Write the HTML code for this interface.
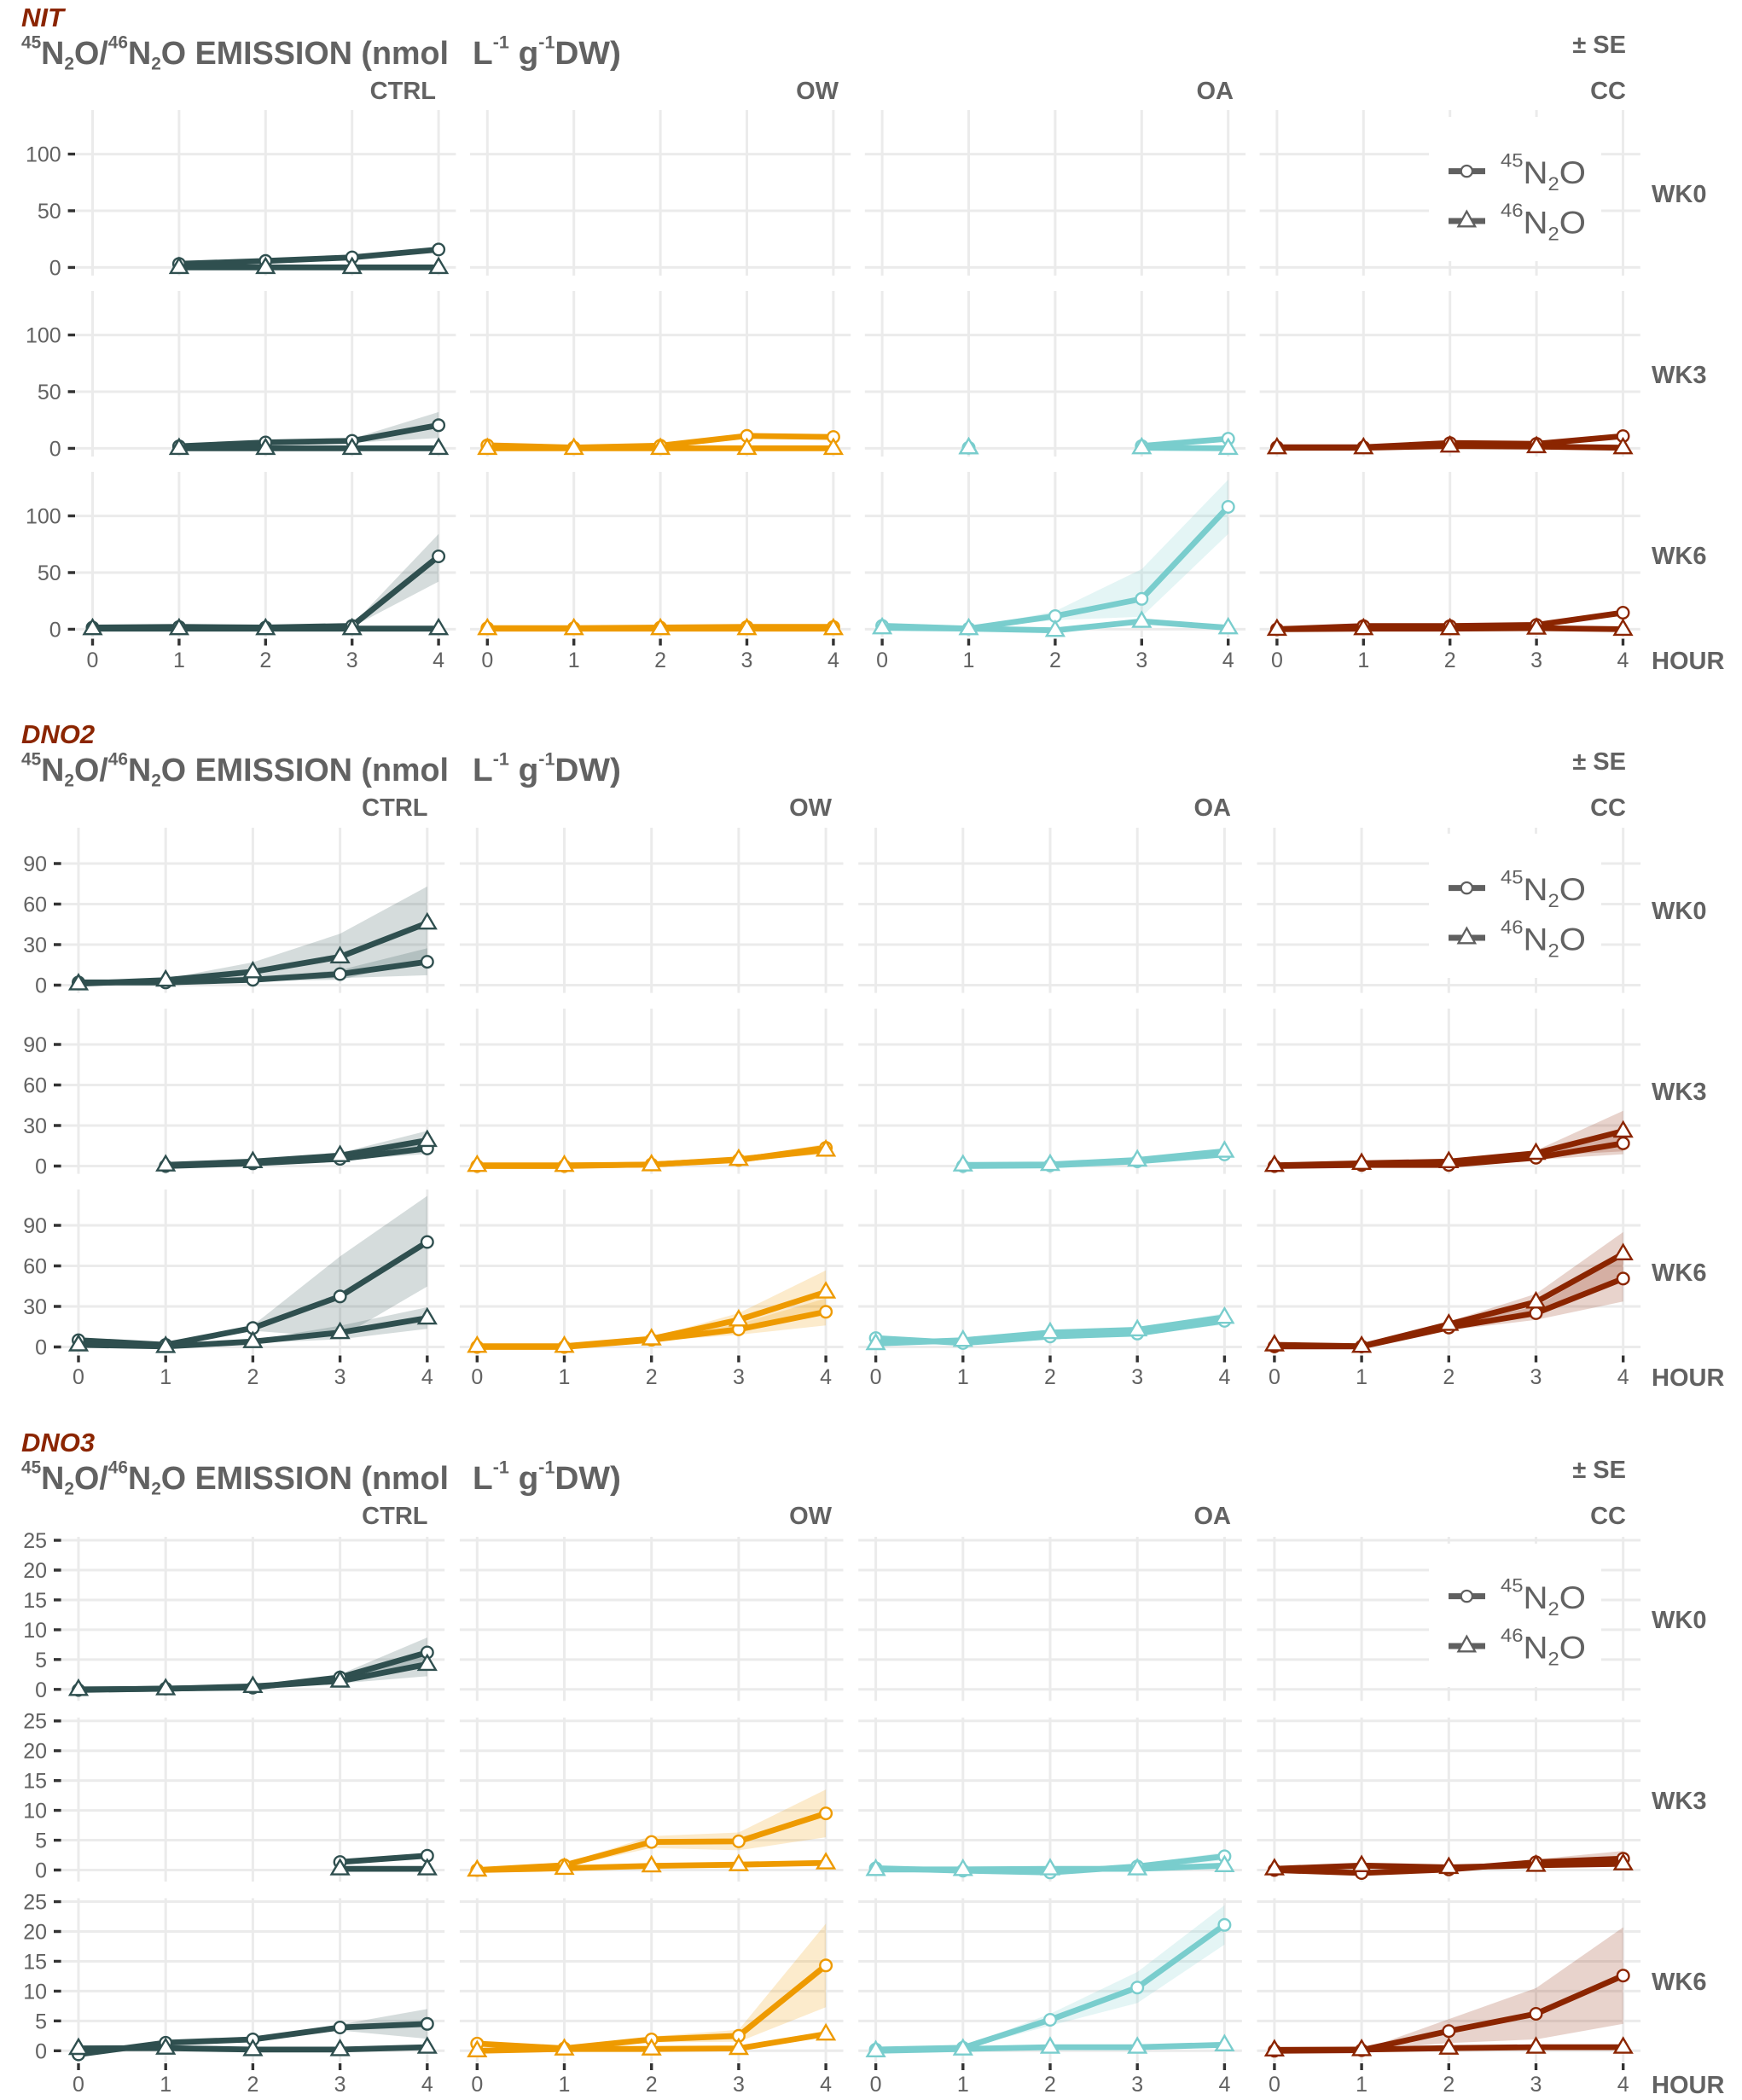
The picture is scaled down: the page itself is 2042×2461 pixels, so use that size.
<!DOCTYPE html>
<html><head><meta charset="utf-8">
<style>
html,body{margin:0;padding:0;background:#fff;}
svg{display:block;}
text{font-family:"Liberation Sans",Arial,sans-serif;fill:#626262;}
.tk{font-size:25px;}
.tr{text-anchor:end;}
.tm{text-anchor:middle;}
.st{font-size:29px;font-weight:bold;}
.bl{font-size:31px;font-weight:bold;font-style:italic;fill:#8B2500;}
.ti{font-size:38px;font-weight:bold;}
.sm{font-size:21px;}
.lg{font-size:37px;}
.ls{font-size:22px;}
.l{fill:none;stroke-width:6.8;stroke-linejoin:round;}
.rb{stroke:none;fill-opacity:.2;}
.m{fill:none;stroke:none;}
.k0{stroke:#2F4F4F;fill:#2F4F4F;}
.k1{stroke:#EE9A00;fill:#EE9A00;}
.k2{stroke:#79CDCD;fill:#79CDCD;}
.k3{stroke:#8B2500;fill:#8B2500;}
.c0{marker:url(#mc0);} .t0{marker:url(#mt0);}
.c1{marker:url(#mc1);} .t1{marker:url(#mt1);}
.c2{marker:url(#mc2);} .t2{marker:url(#mt2);}
.c3{marker:url(#mc3);} .t3{marker:url(#mt3);}
.grid{fill:none;stroke:#EBEBEB;stroke-width:3;}
.tick{fill:none;stroke:#333;stroke-width:3.4;}
</style></head>
<body>
<svg xmlns="http://www.w3.org/2000/svg" width="2042" height="2461" viewBox="0 0 2042 2461">
<defs>
<marker id="mc0" markerUnits="userSpaceOnUse" markerWidth="1" markerHeight="1" refX="0" refY="0" overflow="visible"><circle r="6.8" fill="#fff" stroke="#2F4F4F" stroke-width="2.4"/></marker>
<marker id="mt0" markerUnits="userSpaceOnUse" markerWidth="1" markerHeight="1" refX="0" refY="0" overflow="visible"><path d="M0,-10.5L10,6.5L-10,6.5Z" fill="#fff" stroke="#2F4F4F" stroke-width="2.4"/></marker>
<marker id="mc1" markerUnits="userSpaceOnUse" markerWidth="1" markerHeight="1" refX="0" refY="0" overflow="visible"><circle r="6.8" fill="#fff" stroke="#EE9A00" stroke-width="2.4"/></marker>
<marker id="mt1" markerUnits="userSpaceOnUse" markerWidth="1" markerHeight="1" refX="0" refY="0" overflow="visible"><path d="M0,-10.5L10,6.5L-10,6.5Z" fill="#fff" stroke="#EE9A00" stroke-width="2.4"/></marker>
<marker id="mc2" markerUnits="userSpaceOnUse" markerWidth="1" markerHeight="1" refX="0" refY="0" overflow="visible"><circle r="6.8" fill="#fff" stroke="#79CDCD" stroke-width="2.4"/></marker>
<marker id="mt2" markerUnits="userSpaceOnUse" markerWidth="1" markerHeight="1" refX="0" refY="0" overflow="visible"><path d="M0,-10.5L10,6.5L-10,6.5Z" fill="#fff" stroke="#79CDCD" stroke-width="2.4"/></marker>
<marker id="mc3" markerUnits="userSpaceOnUse" markerWidth="1" markerHeight="1" refX="0" refY="0" overflow="visible"><circle r="6.8" fill="#fff" stroke="#8B2500" stroke-width="2.4"/></marker>
<marker id="mt3" markerUnits="userSpaceOnUse" markerWidth="1" markerHeight="1" refX="0" refY="0" overflow="visible"><path d="M0,-10.5L10,6.5L-10,6.5Z" fill="#fff" stroke="#8B2500" stroke-width="2.4"/></marker>
<path id="g1" class="grid" d="M0,-184.4V9.6M101.4,-184.4V9.6M202.8,-184.4V9.6M304.2,-184.4V9.6M405.6,-184.4V9.6M-20.3,0H425.9M-20.3,-66.4H425.9M-20.3,-132.8H425.9"/>
<path id="g2" class="grid" d="M0,-184.5V9.1M102.2,-184.5V9.1M204.4,-184.5V9.1M306.6,-184.5V9.1M408.8,-184.5V9.1M-20.4,0H429.2M-20.4,-47.5H429.2M-20.4,-95H429.2M-20.4,-142.5H429.2"/>
<path id="g3" class="grid" d="M0,-178.8V13.5M102.2,-178.8V13.5M204.4,-178.8V13.5M306.6,-178.8V13.5M408.8,-178.8V13.5M-20.4,0H429.2M-20.4,-34.95H429.2M-20.4,-69.9H429.2M-20.4,-104.85H429.2M-20.4,-139.8H429.2M-20.4,-174.75H429.2"/>
</defs>

<!-- ================= GRIDS ================= -->
<use href="#g1" x="108.5" y="313.4"/><use href="#g1" x="571.3" y="313.4"/><use href="#g1" x="1034.1" y="313.4"/><use href="#g1" x="1496.9" y="313.4"/>
<use href="#g1" x="108.5" y="525.4"/><use href="#g1" x="571.3" y="525.4"/><use href="#g1" x="1034.1" y="525.4"/><use href="#g1" x="1496.9" y="525.4"/>
<use href="#g1" x="108.5" y="737.4"/><use href="#g1" x="571.3" y="737.4"/><use href="#g1" x="1034.1" y="737.4"/><use href="#g1" x="1496.9" y="737.4"/>

<use href="#g2" x="92" y="1154.5"/><use href="#g2" x="559.3" y="1154.5"/><use href="#g2" x="1026.6" y="1154.5"/><use href="#g2" x="1493.9" y="1154.5"/>
<use href="#g2" x="92" y="1366.5"/><use href="#g2" x="559.3" y="1366.5"/><use href="#g2" x="1026.6" y="1366.5"/><use href="#g2" x="1493.9" y="1366.5"/>
<use href="#g2" x="92" y="1578.5"/><use href="#g2" x="559.3" y="1578.5"/><use href="#g2" x="1026.6" y="1578.5"/><use href="#g2" x="1493.9" y="1578.5"/>

<use href="#g3" x="92" y="1979.8"/><use href="#g3" x="559.3" y="1979.8"/><use href="#g3" x="1026.6" y="1979.8"/><use href="#g3" x="1493.9" y="1979.8"/>
<use href="#g3" x="92" y="2191.5"/><use href="#g3" x="559.3" y="2191.5"/><use href="#g3" x="1026.6" y="2191.5"/><use href="#g3" x="1493.9" y="2191.5"/>
<use href="#g3" x="92" y="2403.3"/><use href="#g3" x="559.3" y="2403.3"/><use href="#g3" x="1026.6" y="2403.3"/><use href="#g3" x="1493.9" y="2403.3"/>

<!-- ================= TICKS ================= -->
<path class="tick" d="M79.6,180.6H88M79.6,247H88M79.6,313.4H88M79.6,392.6H88M79.6,459H88M79.6,525.4H88M79.6,604.6H88M79.6,671H88M79.6,737.4H88
M108.5,748.5V756.5M209.9,748.5V756.5M311.3,748.5V756.5M412.7,748.5V756.5M514.1,748.5V756.5
M571.3,748.5V756.5M672.7,748.5V756.5M774.1,748.5V756.5M875.5,748.5V756.5M976.9,748.5V756.5
M1034.1,748.5V756.5M1135.5,748.5V756.5M1236.9,748.5V756.5M1338.3,748.5V756.5M1439.7,748.5V756.5
M1496.9,748.5V756.5M1598.3,748.5V756.5M1699.7,748.5V756.5M1801.1,748.5V756.5M1902.5,748.5V756.5"/>
<path class="tick" d="M63,1012H71.6M63,1059.5H71.6M63,1107H71.6M63,1154.5H71.6M63,1224H71.6M63,1271.5H71.6M63,1319H71.6M63,1366.5H71.6M63,1436H71.6M63,1483.5H71.6M63,1531H71.6M63,1578.5H71.6
M92,1588.5V1596.5M194.2,1588.5V1596.5M296.4,1588.5V1596.5M398.6,1588.5V1596.5M500.8,1588.5V1596.5
M559.3,1588.5V1596.5M661.5,1588.5V1596.5M763.7,1588.5V1596.5M865.9,1588.5V1596.5M968.1,1588.5V1596.5
M1026.6,1588.5V1596.5M1128.8,1588.5V1596.5M1231,1588.5V1596.5M1333.2,1588.5V1596.5M1435.4,1588.5V1596.5
M1493.9,1588.5V1596.5M1596.1,1588.5V1596.5M1698.3,1588.5V1596.5M1800.5,1588.5V1596.5M1902.7,1588.5V1596.5"/>
<path class="tick" d="M63,1805.05H71.6M63,1840H71.6M63,1874.95H71.6M63,1909.9H71.6M63,1944.85H71.6M63,1979.8H71.6
M63,2016.75H71.6M63,2051.7H71.6M63,2086.65H71.6M63,2121.6H71.6M63,2156.55H71.6M63,2191.5H71.6
M63,2228.55H71.6M63,2263.5H71.6M63,2298.45H71.6M63,2333.4H71.6M63,2368.35H71.6M63,2403.3H71.6
M92,2418V2426M194.2,2418V2426M296.4,2418V2426M398.6,2418V2426M500.8,2418V2426
M559.3,2418V2426M661.5,2418V2426M763.7,2418V2426M865.9,2418V2426M968.1,2418V2426
M1026.6,2418V2426M1128.8,2418V2426M1231,2418V2426M1333.2,2418V2426M1435.4,2418V2426
M1493.9,2418V2426M1596.1,2418V2426M1698.3,2418V2426M1800.5,2418V2426M1902.7,2418V2426"/>

<!-- ================= Y TICK LABELS ================= -->
<g>
<text class="tk tr" x="71.7" y="189.6">100</text><text class="tk tr" x="71.7" y="256">50</text><text class="tk tr" x="71.7" y="322.4">0</text>
<text class="tk tr" x="71.7" y="401.6">100</text><text class="tk tr" x="71.7" y="468">50</text><text class="tk tr" x="71.7" y="534.4">0</text>
<text class="tk tr" x="71.7" y="613.6">100</text><text class="tk tr" x="71.7" y="680">50</text><text class="tk tr" x="71.7" y="746.4">0</text>

<text class="tk tr" x="55" y="1021">90</text><text class="tk tr" x="55" y="1068.5">60</text><text class="tk tr" x="55" y="1116">30</text><text class="tk tr" x="55" y="1163.5">0</text>
<text class="tk tr" x="55" y="1233">90</text><text class="tk tr" x="55" y="1280.5">60</text><text class="tk tr" x="55" y="1328">30</text><text class="tk tr" x="55" y="1375.5">0</text>
<text class="tk tr" x="55" y="1445">90</text><text class="tk tr" x="55" y="1492.5">60</text><text class="tk tr" x="55" y="1540">30</text><text class="tk tr" x="55" y="1587.5">0</text>

<text class="tk tr" x="55" y="1814.1">25</text><text class="tk tr" x="55" y="1849">20</text><text class="tk tr" x="55" y="1884">15</text><text class="tk tr" x="55" y="1918.9">10</text><text class="tk tr" x="55" y="1953.9">5</text><text class="tk tr" x="55" y="1988.8">0</text>
<text class="tk tr" x="55" y="2025.7">25</text><text class="tk tr" x="55" y="2060.7">20</text><text class="tk tr" x="55" y="2095.7">15</text><text class="tk tr" x="55" y="2130.6">10</text><text class="tk tr" x="55" y="2165.6">5</text><text class="tk tr" x="55" y="2200.5">0</text>
<text class="tk tr" x="55" y="2237.6">25</text><text class="tk tr" x="55" y="2272.5">20</text><text class="tk tr" x="55" y="2307.5">15</text><text class="tk tr" x="55" y="2342.4">10</text><text class="tk tr" x="55" y="2377.4">5</text><text class="tk tr" x="55" y="2412.3">0</text>
</g>

<!-- ================= X TICK LABELS ================= -->
<g>
<text class="tk tm" x="108.5" y="782">0</text><text class="tk tm" x="209.9" y="782">1</text><text class="tk tm" x="311.3" y="782">2</text><text class="tk tm" x="412.7" y="782">3</text><text class="tk tm" x="514.1" y="782">4</text>
<text class="tk tm" x="571.3" y="782">0</text><text class="tk tm" x="672.7" y="782">1</text><text class="tk tm" x="774.1" y="782">2</text><text class="tk tm" x="875.5" y="782">3</text><text class="tk tm" x="976.9" y="782">4</text>
<text class="tk tm" x="1034.1" y="782">0</text><text class="tk tm" x="1135.5" y="782">1</text><text class="tk tm" x="1236.9" y="782">2</text><text class="tk tm" x="1338.3" y="782">3</text><text class="tk tm" x="1439.7" y="782">4</text>
<text class="tk tm" x="1496.9" y="782">0</text><text class="tk tm" x="1598.3" y="782">1</text><text class="tk tm" x="1699.7" y="782">2</text><text class="tk tm" x="1801.1" y="782">3</text><text class="tk tm" x="1902.5" y="782">4</text>

<text class="tk tm" x="92" y="1622">0</text><text class="tk tm" x="194.2" y="1622">1</text><text class="tk tm" x="296.4" y="1622">2</text><text class="tk tm" x="398.6" y="1622">3</text><text class="tk tm" x="500.8" y="1622">4</text>
<text class="tk tm" x="559.3" y="1622">0</text><text class="tk tm" x="661.5" y="1622">1</text><text class="tk tm" x="763.7" y="1622">2</text><text class="tk tm" x="865.9" y="1622">3</text><text class="tk tm" x="968.1" y="1622">4</text>
<text class="tk tm" x="1026.6" y="1622">0</text><text class="tk tm" x="1128.8" y="1622">1</text><text class="tk tm" x="1231" y="1622">2</text><text class="tk tm" x="1333.2" y="1622">3</text><text class="tk tm" x="1435.4" y="1622">4</text>
<text class="tk tm" x="1493.9" y="1622">0</text><text class="tk tm" x="1596.1" y="1622">1</text><text class="tk tm" x="1698.3" y="1622">2</text><text class="tk tm" x="1800.5" y="1622">3</text><text class="tk tm" x="1902.7" y="1622">4</text>

<text class="tk tm" x="92" y="2451">0</text><text class="tk tm" x="194.2" y="2451">1</text><text class="tk tm" x="296.4" y="2451">2</text><text class="tk tm" x="398.6" y="2451">3</text><text class="tk tm" x="500.8" y="2451">4</text>
<text class="tk tm" x="559.3" y="2451">0</text><text class="tk tm" x="661.5" y="2451">1</text><text class="tk tm" x="763.7" y="2451">2</text><text class="tk tm" x="865.9" y="2451">3</text><text class="tk tm" x="968.1" y="2451">4</text>
<text class="tk tm" x="1026.6" y="2451">0</text><text class="tk tm" x="1128.8" y="2451">1</text><text class="tk tm" x="1231" y="2451">2</text><text class="tk tm" x="1333.2" y="2451">3</text><text class="tk tm" x="1435.4" y="2451">4</text>
<text class="tk tm" x="1493.9" y="2451">0</text><text class="tk tm" x="1596.1" y="2451">1</text><text class="tk tm" x="1698.3" y="2451">2</text><text class="tk tm" x="1800.5" y="2451">3</text><text class="tk tm" x="1902.7" y="2451">4</text>
</g>

<!-- ================= BLOCK TEXT + LEGENDS ================= -->
<g>
<text class="bl" x="25" y="31">NIT</text>
<text class="ti" x="25" y="75" textLength="501" lengthAdjust="spacingAndGlyphs"><tspan class="sm" dy="-18.5">45</tspan><tspan dy="18.5">N</tspan><tspan class="sm" dy="6.5">2</tspan><tspan dy="-6.5">O/</tspan><tspan class="sm" dy="-18.5">46</tspan><tspan dy="18.5">N</tspan><tspan class="sm" dy="6.5">2</tspan><tspan dy="-6.5">O EMISSION (nmol</tspan></text>
<text class="ti" x="554" y="75" textLength="174" lengthAdjust="spacingAndGlyphs">L<tspan class="sm" dy="-18.5">-1</tspan><tspan dy="18.5"> g</tspan><tspan class="sm" dy="-18.5">-1</tspan><tspan dy="18.5">DW)</tspan></text>
<text class="st tr" x="1906" y="62">± SE</text>
<text class="st tr" x="511" y="116">CTRL</text><text class="st tr" x="983" y="116">OW</text><text class="st tr" x="1446" y="116">OA</text><text class="st tr" x="1906" y="116">CC</text>
<text class="st" x="1936" y="237">WK0</text><text class="st" x="1936" y="449">WK3</text><text class="st" x="1936" y="661">WK6</text>
<text class="st" x="1936" y="784">HOUR</text>
<rect x="1675" y="137" width="202" height="169" fill="#fff"/>
<path d="M1698,200.6H1741M1698,259H1741" stroke="#606060" stroke-width="7"/>
<circle cx="1719.3" cy="200.6" r="6.6" fill="#fff" stroke="#606060" stroke-width="2.3"/>
<path transform="translate(1719.3,259)" d="M0,-11.3L9.8,6.3L-9.8,6.3Z" fill="#fff" stroke="#606060" stroke-width="2.3"/>
<text class="lg" x="1759" y="215" textLength="100" lengthAdjust="spacingAndGlyphs"><tspan class="ls" dy="-19.3">45</tspan><tspan dy="19.3">N</tspan><tspan class="ls" dy="8">2</tspan><tspan dy="-8">O</tspan></text>
<text class="lg" x="1759" y="273.5" textLength="100" lengthAdjust="spacingAndGlyphs"><tspan class="ls" dy="-19.3">46</tspan><tspan dy="19.3">N</tspan><tspan class="ls" dy="8">2</tspan><tspan dy="-8">O</tspan></text>
</g>

<g transform="translate(0,840)">
<text class="bl" x="25" y="31">DNO2</text>
<text class="ti" x="25" y="75" textLength="501" lengthAdjust="spacingAndGlyphs"><tspan class="sm" dy="-18.5">45</tspan><tspan dy="18.5">N</tspan><tspan class="sm" dy="6.5">2</tspan><tspan dy="-6.5">O/</tspan><tspan class="sm" dy="-18.5">46</tspan><tspan dy="18.5">N</tspan><tspan class="sm" dy="6.5">2</tspan><tspan dy="-6.5">O EMISSION (nmol</tspan></text>
<text class="ti" x="554" y="75" textLength="174" lengthAdjust="spacingAndGlyphs">L<tspan class="sm" dy="-18.5">-1</tspan><tspan dy="18.5"> g</tspan><tspan class="sm" dy="-18.5">-1</tspan><tspan dy="18.5">DW)</tspan></text>
<text class="st tr" x="1906" y="62">± SE</text>
<text class="st tr" x="501.5" y="116">CTRL</text><text class="st tr" x="975" y="116">OW</text><text class="st tr" x="1443" y="116">OA</text><text class="st tr" x="1906" y="116">CC</text>
<text class="st" x="1936" y="237">WK0</text><text class="st" x="1936" y="449">WK3</text><text class="st" x="1936" y="661">WK6</text>
<text class="st" x="1936" y="784">HOUR</text>
<rect x="1675" y="137" width="202" height="169" fill="#fff"/>
<path d="M1698,200.6H1741M1698,259H1741" stroke="#606060" stroke-width="7"/>
<circle cx="1719.3" cy="200.6" r="6.6" fill="#fff" stroke="#606060" stroke-width="2.3"/>
<path transform="translate(1719.3,259)" d="M0,-11.3L9.8,6.3L-9.8,6.3Z" fill="#fff" stroke="#606060" stroke-width="2.3"/>
<text class="lg" x="1759" y="215" textLength="100" lengthAdjust="spacingAndGlyphs"><tspan class="ls" dy="-19.3">45</tspan><tspan dy="19.3">N</tspan><tspan class="ls" dy="8">2</tspan><tspan dy="-8">O</tspan></text>
<text class="lg" x="1759" y="273.5" textLength="100" lengthAdjust="spacingAndGlyphs"><tspan class="ls" dy="-19.3">46</tspan><tspan dy="19.3">N</tspan><tspan class="ls" dy="8">2</tspan><tspan dy="-8">O</tspan></text>
</g>

<g transform="translate(0,1670)">
<text class="bl" x="25" y="31">DNO3</text>
<text class="ti" x="25" y="75" textLength="501" lengthAdjust="spacingAndGlyphs"><tspan class="sm" dy="-18.5">45</tspan><tspan dy="18.5">N</tspan><tspan class="sm" dy="6.5">2</tspan><tspan dy="-6.5">O/</tspan><tspan class="sm" dy="-18.5">46</tspan><tspan dy="18.5">N</tspan><tspan class="sm" dy="6.5">2</tspan><tspan dy="-6.5">O EMISSION (nmol</tspan></text>
<text class="ti" x="554" y="75" textLength="174" lengthAdjust="spacingAndGlyphs">L<tspan class="sm" dy="-18.5">-1</tspan><tspan dy="18.5"> g</tspan><tspan class="sm" dy="-18.5">-1</tspan><tspan dy="18.5">DW)</tspan></text>
<text class="st tr" x="1906" y="62">± SE</text>
<text class="st tr" x="501.5" y="116">CTRL</text><text class="st tr" x="975" y="116">OW</text><text class="st tr" x="1443" y="116">OA</text><text class="st tr" x="1906" y="116">CC</text>
<text class="st" x="1936" y="238">WK0</text><text class="st" x="1936" y="450">WK3</text><text class="st" x="1936" y="662">WK6</text>
<text class="st" x="1936" y="783">HOUR</text>
<rect x="1675" y="139" width="202" height="168" fill="#fff"/>
<path d="M1698,200.6H1741M1698,259H1741" stroke="#606060" stroke-width="7"/>
<circle cx="1719.3" cy="200.6" r="6.6" fill="#fff" stroke="#606060" stroke-width="2.3"/>
<path transform="translate(1719.3,259)" d="M0,-11.3L9.8,6.3L-9.8,6.3Z" fill="#fff" stroke="#606060" stroke-width="2.3"/>
<text class="lg" x="1759" y="215" textLength="100" lengthAdjust="spacingAndGlyphs"><tspan class="ls" dy="-19.3">45</tspan><tspan dy="19.3">N</tspan><tspan class="ls" dy="8">2</tspan><tspan dy="-8">O</tspan></text>
<text class="lg" x="1759" y="273.5" textLength="100" lengthAdjust="spacingAndGlyphs"><tspan class="ls" dy="-19.3">46</tspan><tspan dy="19.3">N</tspan><tspan class="ls" dy="8">2</tspan><tspan dy="-8">O</tspan></text>
</g>

<!-- ================= BLOCK 1 DATA (NIT) ================= -->
<g transform="translate(108.5,313.4)" class="k0">
<polyline class="l" points="101.4,-4.2 202.8,-7.6 304.2,-11.8 405.6,-21"/>
<polyline class="l" points="101.4,0 202.8,0 304.2,0 405.6,0"/>
<polyline class="m c0" points="101.4,-4.2 202.8,-7.6 304.2,-11.8 405.6,-21"/>
<polyline class="m t0" points="101.4,0 202.8,0 304.2,0 405.6,0"/>
</g>
<g transform="translate(108.5,525.4)" class="k0">
<polygon class="rb" points="101.4,-3.1 202.8,-8.2 304.2,-11.3 405.6,-42.5 405.6,-12 304.2,-6.6 202.8,-5.6 101.4,-1.7"/>
<polyline class="l" points="101.4,-2.4 202.8,-6.9 304.2,-8.8 405.6,-27.1"/>
<polyline class="l" points="101.4,0 202.8,0 304.2,0 405.6,0"/>
<polyline class="m c0" points="101.4,-2.4 202.8,-6.9 304.2,-8.8 405.6,-27.1"/>
<polyline class="m t0" points="101.4,0 202.8,0 304.2,0 405.6,0"/>
</g>
<g transform="translate(108.5,737.4)" class="k0">
<polygon class="rb" points="0,-2.7 101.4,-3.4 202.8,-2.7 304.2,-5 405.6,-111.6 405.6,-55.8 304.2,-2.7 202.8,-1.3 101.4,-2 0,-1.3"/>
<polyline class="l" points="0,-2 101.4,-2.7 202.8,-2 304.2,-3.9 405.6,-85.4"/>
<polyline class="l" points="0,-.7 101.4,-.7 202.8,-.7 304.2,-.7 405.6,-.7"/>
<polyline class="m c0" points="0,-2 101.4,-2.7 202.8,-2 304.2,-3.9 405.6,-85.4"/>
<polyline class="m t0" points="0,-.7 101.4,-.7 202.8,-.7 304.2,-.7 405.6,-.7"/>
</g>
<g transform="translate(571.3,525.4)" class="k1">
<polyline class="l" points="0,-3.5 101.4,-.9 202.8,-3.1 304.2,-14.6 405.6,-13.3"/>
<polyline class="l" points="0,0 101.4,0 202.8,0 304.2,0 405.6,0"/>
<polyline class="m c1" points="0,-3.5 101.4,-.9 202.8,-3.1 304.2,-14.6 405.6,-13.3"/>
<polyline class="m t1" points="0,0 101.4,0 202.8,0 304.2,0 405.6,0"/>
</g>
<g transform="translate(571.3,737.4)" class="k1">
<polyline class="l" points="0,-1.3 101.4,-1.3 202.8,-2 304.2,-2.7 405.6,-2.7"/>
<polyline class="l" points="0,-.7 101.4,-.7 202.8,-.7 304.2,-.7 405.6,-.7"/>
<polyline class="m c1" points="0,-1.3 101.4,-1.3 202.8,-2 304.2,-2.7 405.6,-2.7"/>
<polyline class="m t1" points="0,-.7 101.4,-.7 202.8,-.7 304.2,-.7 405.6,-.7"/>
</g>
<g transform="translate(1034.1,525.4)" class="k2">
<polyline class="l" points="304.2,-2.7 405.6,-11.3"/>
<polyline class="l" points="304.2,-.7 405.6,0"/>
<polyline class="m c2" points="101.4,-.7 101.4,-.7"/>
<polyline class="m c2" points="304.2,-2.7 405.6,-11.3"/>
<polyline class="m t2" points="101.4,-.7 101.4,-.7"/>
<polyline class="m t2" points="304.2,-.7 405.6,0"/>
</g>
<g transform="translate(1034.1,737.4)" class="k2">
<polygon class="rb" points="0,-4.6 101.4,-1.1 202.8,-21.2 304.2,-70.4 405.6,-175.3 405.6,-111.6 304.2,-14.6 202.8,-10.6 101.4,-.3 0,-3.3"/>
<polyline class="l" points="0,-4 101.4,-.7 202.8,-15.4 304.2,-35.6 405.6,-143.4"/>
<polyline class="l" points="0,-1.7 101.4,-.7 202.8,1.3 304.2,-9.3 405.6,-1.7"/>
<polyline class="m c2" points="0,-4 101.4,-.7 202.8,-15.4 304.2,-35.6 405.6,-143.4"/>
<polyline class="m t2" points="0,-1.7 101.4,-.7 202.8,1.3 304.2,-9.3 405.6,-1.7"/>
</g>
<g transform="translate(1496.9,525.4)" class="k3">
<polyline class="l" points="0,-1.3 101.4,-1.3 202.8,-6.2 304.2,-5.3 405.6,-14.3"/>
<polyline class="l" points="0,-.7 101.4,-.7 202.8,-2.7 304.2,-2 405.6,-.7"/>
<polyline class="m c3" points="0,-1.3 101.4,-1.3 202.8,-6.2 304.2,-5.3 405.6,-14.3"/>
<polyline class="m t3" points="0,-.7 101.4,-.7 202.8,-2.7 304.2,-2 405.6,-.7"/>
</g>
<g transform="translate(1496.9,737.4)" class="k3">
<polyline class="l" points="0,0 101.4,-3.7 202.8,-3.7 304.2,-5 405.6,-19.4"/>
<polyline class="l" points="0,0 101.4,-.7 202.8,-.7 304.2,-1.3 405.6,0"/>
<polyline class="m c3" points="0,0 101.4,-3.7 202.8,-3.7 304.2,-5 405.6,-19.4"/>
<polyline class="m t3" points="0,0 101.4,-.7 202.8,-.7 304.2,-1.3 405.6,0"/>
</g>

<!-- ================= BLOCK 2 DATA (DNO2) ================= -->
<g transform="translate(92,1154.5)" class="k0">
<polygon class="rb" points="0,-2.4 102.2,-7.4 204.4,-26.8 306.6,-60.2 408.8,-115.6 408.8,-30.1 306.6,-6.3 204.4,-4.6 102.2,-4.3 0,-.8"/>
<polygon class="rb" points="0,-4 102.2,-4 204.4,-7.9 306.6,-17.7 408.8,-43.2 408.8,-11.6 306.6,-8.2 204.4,-4.7 102.2,-2.4 0,-2.4"/>
<polyline class="l" points="0,-3.2 102.2,-3.2 204.4,-6.3 306.6,-13 408.8,-27.4"/>
<polyline class="l" points="0,-1.6 102.2,-5.9 204.4,-15.7 306.6,-33.2 408.8,-72.8"/>
<polyline class="m c0" points="0,-3.2 102.2,-3.2 204.4,-6.3 306.6,-13 408.8,-27.4"/>
<polyline class="m t0" points="0,-1.6 102.2,-5.9 204.4,-15.7 306.6,-33.2 408.8,-72.8"/>
</g>
<g transform="translate(92,1366.5)" class="k0">
<polygon class="rb" points="102.2,-.5 204.4,-4 306.6,-10 408.8,-26.9 408.8,-14.2 306.6,-6.8 204.4,-2.4 102.2,.5"/>
<polygon class="rb" points="102.2,-1.7 204.4,-6 306.6,-15.5 408.8,-41.2 408.8,-19 306.6,-9.2 204.4,-4.4 102.2,-.8"/>
<polyline class="l" points="102.2,0 204.4,-3.2 306.6,-8.4 408.8,-20.6"/>
<polyline class="l" points="102.2,-1.3 204.4,-5.2 306.6,-12.3 408.8,-30.1"/>
<polyline class="m c0" points="102.2,0 204.4,-3.2 306.6,-8.4 408.8,-20.6"/>
<polyline class="m t0" points="102.2,-1.3 204.4,-5.2 306.6,-12.3 408.8,-30.1"/>
</g>
<g transform="translate(92,1578.5)" class="k0">
<polygon class="rb" points="0,-11.1 102.2,-3.5 204.4,-25.3 306.6,-106.1 408.8,-177 408.8,-70.9 306.6,-11.1 204.4,-19 102.2,-1.6 0,-4.7"/>
<polygon class="rb" points="0,-3.3 102.2,-1.1 204.4,-7.9 306.6,-24.9 408.8,-46.5 408.8,-21.2 306.6,-9 204.4,-4.7 102.2,-.2 0,-1.7"/>
<polyline class="l" points="0,-7.9 102.2,-2.5 204.4,-22.2 306.6,-59.2 408.8,-123"/>
<polyline class="l" points="0,-2.5 102.2,-.6 204.4,-6.3 306.6,-16.9 408.8,-33.9"/>
<polyline class="m c0" points="0,-7.9 102.2,-2.5 204.4,-22.2 306.6,-59.2 408.8,-123"/>
<polyline class="m t0" points="0,-2.5 102.2,-.6 204.4,-6.3 306.6,-16.9 408.8,-33.9"/>
</g>
<g transform="translate(559.3,1366.5)" class="k1">
<polygon class="rb" points="0,-.5 102.2,-.5 204.4,-2.4 306.6,-8.7 408.8,-26.1 408.8,-16.6 306.6,-5.5 204.4,-1.4 102.2,.5 0,.5"/>
<polygon class="rb" points="0,-1.3 102.2,-1.3 204.4,-2.1 306.6,-9.5 408.8,-23.4 408.8,-13.9 306.6,-6.3 204.4,-1.1 102.2,-.3 0,-.3"/>
<polyline class="l" points="0,0 102.2,0 204.4,-1.9 306.6,-7.1 408.8,-21.4"/>
<polyline class="l" points="0,-.8 102.2,-.8 204.4,-1.6 306.6,-7.9 408.8,-18.7"/>
<polyline class="m c1" points="0,0 102.2,0 204.4,-1.9 306.6,-7.1 408.8,-21.4"/>
<polyline class="m t1" points="0,-.8 102.2,-.8 204.4,-1.6 306.6,-7.9 408.8,-18.7"/>
</g>
<g transform="translate(559.3,1578.5)" class="k1">
<polygon class="rb" points="0,-.5 102.2,-.5 204.4,-10 306.6,-26.9 408.8,-57 408.8,-25.3 306.6,-14.2 204.4,-6.8 102.2,.5 0,.5"/>
<polygon class="rb" points="0,-1.3 102.2,-1.3 204.4,-11.1 306.6,-39.6 408.8,-89.8 408.8,-39.1 306.6,-23.7 204.4,-7.9 102.2,-.3 0,-.3"/>
<polyline class="l" points="0,0 102.2,0 204.4,-8.4 306.6,-20.6 408.8,-41.2"/>
<polyline class="l" points="0,-.8 102.2,-.8 204.4,-9.5 306.6,-31.7 408.8,-64.4"/>
<polyline class="m c1" points="0,0 102.2,0 204.4,-8.4 306.6,-20.6 408.8,-41.2"/>
<polyline class="m t1" points="0,-.8 102.2,-.8 204.4,-9.5 306.6,-31.7 408.8,-64.4"/>
</g>
<g transform="translate(1026.6,1366.5)" class="k2">
<polygon class="rb" points="102.2,-1.7 204.4,-2.4 306.6,-8.7 408.8,-20.6 408.8,-11.2 306.6,-4.5 204.4,-.4 102.2,.4"/>
<polyline class="l" points="102.2,0 204.4,-.8 306.6,-5.5 408.8,-13.6"/>
<polyline class="l" points="102.2,-1.3 204.4,-1.9 306.6,-7.1 408.8,-17.4"/>
<polyline class="m c2" points="102.2,0 204.4,-.8 306.6,-5.5 408.8,-13.6"/>
<polyline class="m t2" points="102.2,-1.3 204.4,-1.9 306.6,-7.1 408.8,-17.4"/>
</g>
<g transform="translate(1026.6,1578.5)" class="k2">
<polygon class="rb" points="0,-11 102.2,-8.7 204.4,-18.5 306.6,-22.2 408.8,-39.6 408.8,-26 306.6,-14 204.4,-11 102.2,-4 0,-3.5"/>
<polyline class="l" points="0,-10.4 102.2,-4.6 204.4,-12.3 306.6,-15.7 408.8,-30.6"/>
<polyline class="l" points="0,-4 102.2,-7.8 204.4,-16.9 306.6,-20.1 408.8,-34.8"/>
<polyline class="m c2" points="0,-10.4 102.2,-4.6 204.4,-12.3 306.6,-15.7 408.8,-30.6"/>
<polyline class="m t2" points="0,-4 102.2,-7.8 204.4,-16.9 306.6,-20.1 408.8,-34.8"/>
</g>
<g transform="translate(1493.9,1366.5)" class="k3">
<polygon class="rb" points="0,0 102.2,-1.3 204.4,-1.7 306.6,-12.2 408.8,-39.3 408.8,-13.9 306.6,-7.4 204.4,-.8 102.2,-1.3 0,0"/>
<polygon class="rb" points="0,-.8 102.2,-3.6 204.4,-6 306.6,-18.2 408.8,-64.7 408.8,-17.3 306.6,-11.9 204.4,-4.4 102.2,-2.7 0,-.8"/>
<polyline class="l" points="0,0 102.2,-1.3 204.4,-1.3 306.6,-9.8 408.8,-26.6"/>
<polyline class="l" points="0,-.8 102.2,-3.2 204.4,-5.2 306.6,-15 408.8,-41"/>
<polyline class="m c3" points="0,0 102.2,-1.3 204.4,-1.3 306.6,-9.8 408.8,-26.6"/>
<polyline class="m t3" points="0,-.8 102.2,-3.2 204.4,-5.2 306.6,-15 408.8,-41"/>
</g>
<g transform="translate(1493.9,1578.5)" class="k3">
<polygon class="rb" points="0,-.6 102.2,-.6 204.4,-26 306.6,-47.5 408.8,-107 408.8,-53.2 306.6,-31.7 204.4,-19.6 102.2,-.6 0,-.6"/>
<polygon class="rb" points="0,-2.5 102.2,-.8 204.4,-29.8 306.6,-62.2 408.8,-134.6 408.8,-83.9 306.6,-43.2 204.4,-23.4 102.2,-.8 0,-2.5"/>
<polyline class="l" points="0,-.6 102.2,-.6 204.4,-22.8 306.6,-39.6 408.8,-80.1"/>
<polyline class="l" points="0,-2.5 102.2,-.8 204.4,-26.6 306.6,-52.7 408.8,-109.2"/>
<polyline class="m c3" points="0,-.6 102.2,-.6 204.4,-22.8 306.6,-39.6 408.8,-80.1"/>
<polyline class="m t3" points="0,-2.5 102.2,-.8 204.4,-26.6 306.6,-52.7 408.8,-109.2"/>
</g>

<!-- ================= BLOCK 3 DATA (DNO3) ================= -->
<g transform="translate(92,1979.8)" class="k0">
<polygon class="rb" points="0,.7 102.2,-1 204.4,-2.8 306.6,-17.5 408.8,-60.8 408.8,-25.9 306.6,-10.5 204.4,-1.4 102.2,-1 0,.7"/>
<polygon class="rb" points="0,0 102.2,-.7 204.4,-4.2 306.6,-12.6 408.8,-43.3 408.8,-15.4 306.6,-7 204.4,-2.8 102.2,-.7 0,0"/>
<polyline class="l" points="0,.7 102.2,-1 204.4,-2.1 306.6,-14 408.8,-43.3"/>
<polyline class="l" points="0,0 102.2,-.7 204.4,-3.5 306.6,-9.8 408.8,-29.4"/>
<polyline class="m c0" points="0,.7 102.2,-1 204.4,-2.1 306.6,-14 408.8,-43.3"/>
<polyline class="m t0" points="0,0 102.2,-.7 204.4,-3.5 306.6,-9.8 408.8,-29.4"/>
</g>
<g transform="translate(92,2191.5)" class="k0">
<polyline class="l" points="306.6,-9.4 408.8,-16.8"/>
<polyline class="l" points="306.6,-1.4 408.8,-1.4"/>
<polyline class="m c0" points="306.6,-9.4 408.8,-16.8"/>
<polyline class="m t0" points="306.6,-1.4 408.8,-1.4"/>
</g>
<g transform="translate(92,2403.3)" class="k0">
<polygon class="rb" points="0,2.8 102.2,-11.5 204.4,-16.8 306.6,-30.8 408.8,-48.9 408.8,-14 306.6,-23.8 204.4,-9.8 102.2,-7.3 0,5.6"/>
<polyline class="l" points="0,4.2 102.2,-9.4 204.4,-13.3 306.6,-27.3 408.8,-31.5"/>
<polyline class="l" points="0,-2.8 102.2,-3.1 204.4,-1.4 306.6,-1.4 408.8,-4.2"/>
<polyline class="m c0" points="0,4.2 102.2,-9.4 204.4,-13.3 306.6,-27.3 408.8,-31.5"/>
<polyline class="m t0" points="0,-2.8 102.2,-3.1 204.4,-1.4 306.6,-1.4 408.8,-4.2"/>
</g>
<g transform="translate(559.3,2191.5)" class="k1">
<polygon class="rb" points="0,0 102.2,-7.7 204.4,-39.8 306.6,-44 408.8,-94.4 408.8,-38.4 306.6,-23.1 204.4,-25.9 102.2,-3.5 0,0"/>
<polyline class="l" points="0,0 102.2,-5.6 204.4,-32.9 306.6,-33.6 408.8,-66.4"/>
<polyline class="l" points="0,0 102.2,-2.1 204.4,-4.9 306.6,-6.3 408.8,-8.4"/>
<polyline class="m c1" points="0,0 102.2,-5.6 204.4,-32.9 306.6,-33.6 408.8,-66.4"/>
<polyline class="m t1" points="0,0 102.2,-2.1 204.4,-4.9 306.6,-6.3 408.8,-8.4"/>
</g>
<g transform="translate(559.3,2403.3)" class="k1">
<polygon class="rb" points="0,-10.5 102.2,-4.2 204.4,-16.8 306.6,-24.5 408.8,-148.9 408.8,-51 306.6,-10.5 204.4,-9.8 102.2,-1.4 0,-6.3"/>
<polyline class="l" points="0,-8.4 102.2,-2.8 204.4,-13.3 306.6,-17.5 408.8,-100"/>
<polyline class="l" points="0,0 102.2,-2.1 204.4,-2.1 306.6,-2.8 408.8,-19.6"/>
<polyline class="m c1" points="0,-8.4 102.2,-2.8 204.4,-13.3 306.6,-17.5 408.8,-100"/>
<polyline class="m t1" points="0,0 102.2,-2.1 204.4,-2.1 306.6,-2.8 408.8,-19.6"/>
</g>
<g transform="translate(1026.6,2191.5)" class="k2">
<polygon class="rb" points="0,-3 102.2,0 204.4,1.4 306.6,-6.3 408.8,-21 408.8,-11.2 306.6,-2.1 204.4,4.2 102.2,1.4 0,-1.2"/>
<polyline class="l" points="0,-2.1 102.2,.7 204.4,2.8 306.6,-4.2 408.8,-16.1"/>
<polyline class="l" points="0,-.7 102.2,-.7 204.4,-1.4 306.6,-1.4 408.8,-5.2"/>
<polyline class="m c2" points="0,-2.1 102.2,.7 204.4,2.8 306.6,-4.2 408.8,-16.1"/>
<polyline class="m t2" points="0,-.7 102.2,-.7 204.4,-1.4 306.6,-1.4 408.8,-5.2"/>
</g>
<g transform="translate(1026.6,2403.3)" class="k2">
<polygon class="rb" points="0,-1.4 102.2,-4.9 204.4,-43.3 306.6,-92.3 408.8,-170.6 408.8,-124.4 306.6,-55.9 204.4,-29.4 102.2,-2.1 0,-1.4"/>
<polyline class="l" points="0,-1.4 102.2,-3.5 204.4,-36.3 306.6,-74.1 408.8,-147.5"/>
<polyline class="l" points="0,0 102.2,-2.1 204.4,-4.2 306.6,-4.2 408.8,-7"/>
<polyline class="m c2" points="0,-1.4 102.2,-3.5 204.4,-36.3 306.6,-74.1 408.8,-147.5"/>
<polyline class="m t2" points="0,0 102.2,-2.1 204.4,-4.2 306.6,-4.2 408.8,-7"/>
</g>
<g transform="translate(1493.9,2191.5)" class="k3">
<polygon class="rb" points="0,0 102.2,2.1 204.4,-2.8 306.6,-12.6 408.8,-22.4 408.8,-4.2 306.6,-5.6 204.4,1.4 102.2,4.9 0,0"/>
<polyline class="l" points="0,0 102.2,3.5 204.4,-.7 306.6,-9.1 408.8,-13.3"/>
<polyline class="l" points="0,-1.4 102.2,-5.2 204.4,-3.1 306.6,-5.6 408.8,-7.3"/>
<polyline class="m c3" points="0,0 102.2,3.5 204.4,-.7 306.6,-9.1 408.8,-13.3"/>
<polyline class="m t3" points="0,-1.4 102.2,-5.2 204.4,-3.1 306.6,-5.6 408.8,-7.3"/>
</g>
<g transform="translate(1493.9,2403.3)" class="k3">
<polygon class="rb" points="0,0 102.2,-.7 204.4,-37 306.6,-73.4 408.8,-144.7 408.8,-31.5 306.6,-13.3 204.4,-9.1 102.2,-.7 0,0"/>
<polyline class="l" points="0,0 102.2,-.7 204.4,-23.1 306.6,-43.3 408.8,-88.1"/>
<polyline class="l" points="0,-1 102.2,-1.4 204.4,-3.1 306.6,-4.2 408.8,-4.2"/>
<polyline class="m c3" points="0,0 102.2,-.7 204.4,-23.1 306.6,-43.3 408.8,-88.1"/>
<polyline class="m t3" points="0,-1 102.2,-1.4 204.4,-3.1 306.6,-4.2 408.8,-4.2"/>
</g>
</svg>
</body></html>
